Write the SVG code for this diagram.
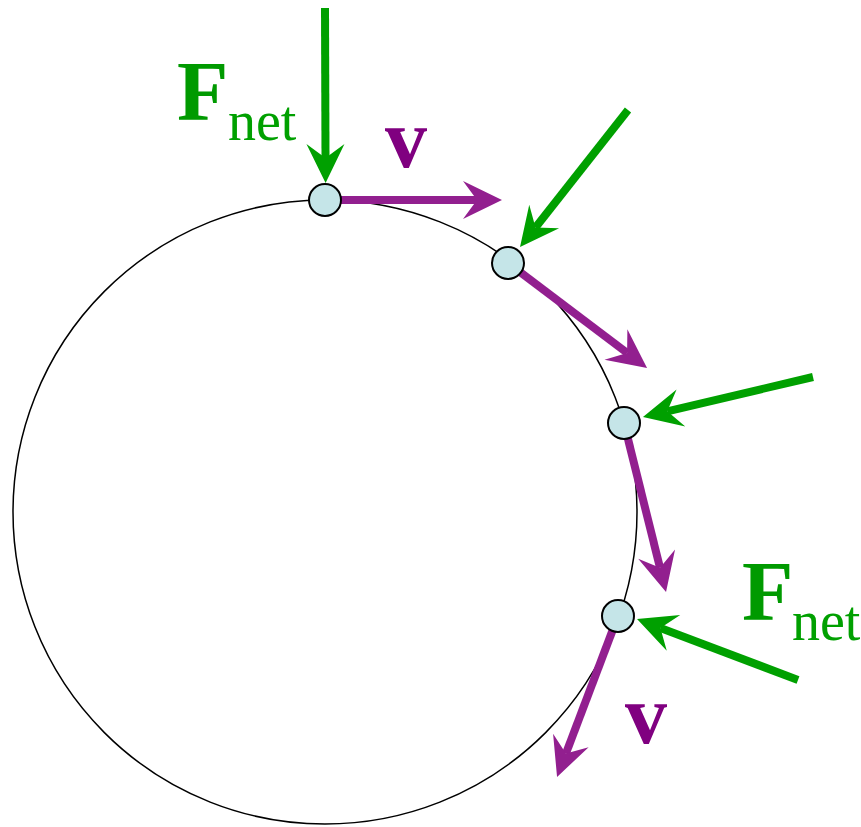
<svg xmlns="http://www.w3.org/2000/svg" width="861" height="827" viewBox="0 0 861 827">
<style>
.g{stroke:#00a000;stroke-width:8;fill:none;marker-end:url(#gh)}
.p{stroke:#921f8f;stroke-width:8;fill:none;marker-end:url(#ph)}
.pt{fill:#c5e5e8;stroke:#000;stroke-width:2}
.F{font-family:"Liberation Serif",serif;font-weight:bold;font-size:84px;fill:#009a00}
.sub{font-family:"Liberation Serif",serif;font-size:56px;fill:#00a000}
.v{font-family:"Liberation Serif",serif;font-weight:bold;font-size:84px;fill:#800080}
</style>
<defs>
<marker id="gh" markerUnits="userSpaceOnUse" orient="auto" refX="0" refY="0" markerWidth="60" markerHeight="60" overflow="visible"><path d="M25,0 L-14,-19 L0,0 L-14,19 Z" fill="#00a000"/></marker>
<marker id="ph" markerUnits="userSpaceOnUse" orient="auto" refX="0" refY="0" markerWidth="60" markerHeight="60" overflow="visible"><path d="M25,0 L-14,-19 L0,0 L-14,19 Z" fill="#921f8f"/></marker>
</defs>
<circle id="path" cx="325" cy="512" r="312" fill="none" stroke="#000" stroke-width="1.5"/>
<g id="connectors">
<line class="g" x1="325" y1="8" x2="325.5" y2="158"/>
<line class="p" x1="325" y1="200" x2="477" y2="200"/>
<line class="g" x1="628" y1="110" x2="535.5" y2="227.4"/>
<line class="p" x1="508" y1="263" x2="627.1" y2="352.9"/>
<line class="g" x1="813" y1="377" x2="667.3" y2="411.3"/>
<line class="p" x1="624" y1="423" x2="660" y2="567.7"/>
<line class="g" x1="798" y1="680" x2="660.4" y2="627.9"/>
<line class="p" x1="618" y1="616" x2="565.9" y2="753.6"/>
</g>
<g id="p1"><circle class="pt" cx="325" cy="200" r="16"/></g>
<g id="p2"><circle class="pt" cx="508" cy="263" r="16"/></g>
<g id="p3"><circle class="pt" cx="624" cy="423" r="16"/></g>
<g id="p4"><circle class="pt" cx="618" cy="616" r="16"/></g>
<g id="label-fnet-1"><text class="F" x="177" y="120">F</text><text class="sub" x="228" y="140">net</text></g>
<g id="label-fnet-2"><text class="F" x="742" y="620">F</text><text class="sub" x="792" y="640">net</text></g>
<g id="label-v-1"><text class="v" x="385" y="167">v</text></g>
<g id="label-v-2"><text class="v" x="625" y="743">v</text></g>
</svg>
